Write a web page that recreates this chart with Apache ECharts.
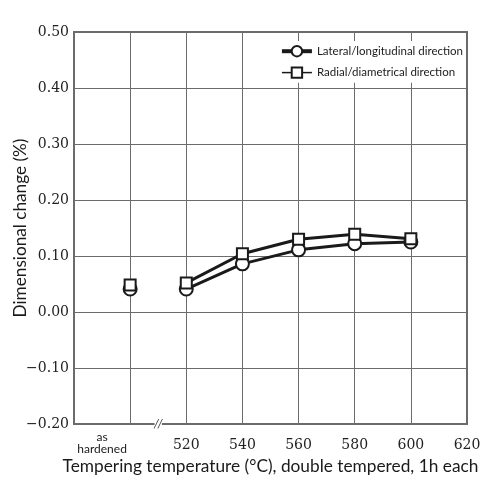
<!DOCTYPE html>
<html>
<head>
<meta charset="utf-8">
<script src="https://cdn.jsdelivr.net/npm/echarts@6/dist/echarts.min.js"></script>
<style>
  html, body { margin: 0; padding: 0; background: #fff; }
  #chart { width: 485px; height: 479px; }
</style>
</head>
<body>
<div id="chart"></div>
<script>
// tempering temperatures, 500 = "as hardened" slot
const temps = [520, 540, 560, 580, 600];
const hardenedX = 500;
const lateralHardened = 0.041;
const radialHardened = 0.048;
const lateral = [0.041, 0.086, 0.111, 0.122, 0.125];
const radial = [0.052, 0.104, 0.130, 0.139, 0.131];
const xTickLabels = [490, 520, 540, 560, 580, 600, 620];

const ink = "#1a1a1a";
const gridGray = "#6b6b6b";
const sans = "Lato, 'Open Sans', sans-serif";
const serif = "'DejaVu Serif', 'Liberation Serif', serif";

const chart = echarts.init(document.getElementById("chart"));

const circleStyle = { color: "#fff", borderColor: ink, borderWidth: 2, opacity: 1 };
const squareStyle = { color: "#fff", borderColor: ink, borderWidth: 2, opacity: 1 };

const option = {
  backgroundColor: "#fff",
  animation: false,
  grid: {
    left: 74,
    right: 18,
    top: 32,
    bottom: 55,
    outerBoundsMode: "none",
    containLabel: false,
    show: true,
    borderColor: gridGray,
    borderWidth: 2,
  },
  legend: {
    orient: "vertical",
    right: 20,
    top: 41,
    itemWidth: 30,
    itemHeight: 13,
    itemGap: 9,
    padding: [4, 2, 4, 6],
    backgroundColor: "#fff",
    textStyle: { fontFamily: sans, fontSize: 11.5, color: ink },
    data: [
      { name: "Lateral/longitudinal direction", lineStyle: { width: 4 } },
      { name: "Radial/diametrical direction", lineStyle: { width: 1.5 } },
    ],
  },
  xAxis: {
    type: "value",
    min: 480,
    max: 620,
    interval: 20,
    name: "Tempering temperature (\u00b0C), double tempered, 1h each",
    nameLocation: "middle",
    nameGap: 34,
    nameMoveOverlap: false,
    nameTextStyle: { fontFamily: sans, fontSize: 17.3, color: ink },
    axisLine: { show: false },
    axisTick: { show: false },
    splitLine: { show: true, lineStyle: { color: gridGray, width: 1 } },
    axisLabel: {
      customValues: xTickLabels,
      margin: 8,
      color: "#222",
      formatter: (v) => (v === 490 ? "{a|as}\n{h|hardened}" : "{n|" + v + "}"),
      rich: {
        n: { fontFamily: serif, fontSize: 14, lineHeight: 26, color: "#222" },
        a: { fontFamily: sans, fontSize: 12, lineHeight: 10, color: ink, align: "center" },
        h: { fontFamily: sans, fontSize: 12, lineHeight: 14, color: ink, align: "center" },
      },
    },
  },
  yAxis: {
    type: "value",
    min: -0.2,
    max: 0.5,
    interval: 0.1,
    name: "Dimensional change (%)",
    nameLocation: "middle",
    nameGap: 45,
    nameMoveOverlap: false,
    nameTextStyle: { fontFamily: sans, fontSize: 17.2, color: ink },
    axisLine: { show: false },
    axisTick: { show: false },
    splitLine: { show: true, lineStyle: { color: gridGray, width: 1 } },
    axisLabel: {
      margin: 5,
      fontFamily: serif,
      fontSize: 14,
      color: "#222",
      formatter: (v) => {
        const r = Math.round(v * 100) / 100;
        return r < 0 ? "\u2212" + Math.abs(r).toFixed(2) : r.toFixed(2);
      },
    },
  },
  series: [
    {
      name: "Lateral/longitudinal direction",
      type: "line",
      symbol: "circle",
      symbolSize: 13,
      lineStyle: { color: ink, width: 3 },
      itemStyle: circleStyle,
      data: temps.map((t, i) => [t, lateral[i]]),
      z: 3,
    },
    {
      name: "Radial/diametrical direction",
      type: "line",
      symbol: "rect",
      symbolSize: 11,
      lineStyle: { color: ink, width: 3 },
      itemStyle: squareStyle,
      data: temps.map((t, i) => [t, radial[i]]),
      z: 4,
    },
    {
      name: "Lateral/longitudinal direction",
      type: "scatter",
      symbol: "circle",
      symbolSize: 13,
      itemStyle: circleStyle,
      data: [[hardenedX, lateralHardened]],
      z: 3,
    },
    {
      name: "Radial/diametrical direction",
      type: "scatter",
      symbol: "rect",
      symbolSize: 11,
      itemStyle: squareStyle,
      data: [[hardenedX, radialHardened]],
      z: 4,
    },
  ],
};

chart.setOption(option);

// axis break mark between "as hardened" and 520
const brk = chart.convertToPixel({ gridIndex: 0 }, [510, -0.2]);
chart.setOption({
  graphic: [
    {
      type: "text",
      x: brk[0],
      y: brk[1],
      style: {
        text: "//",
        fontFamily: serif,
        fontStyle: "italic",
        fontSize: 11,
        fill: "#444",
        align: "center",
        verticalAlign: "middle",
        backgroundColor: "#fff",
      },
      z: 10,
    },
  ],
});
</script>
</body>
</html>
